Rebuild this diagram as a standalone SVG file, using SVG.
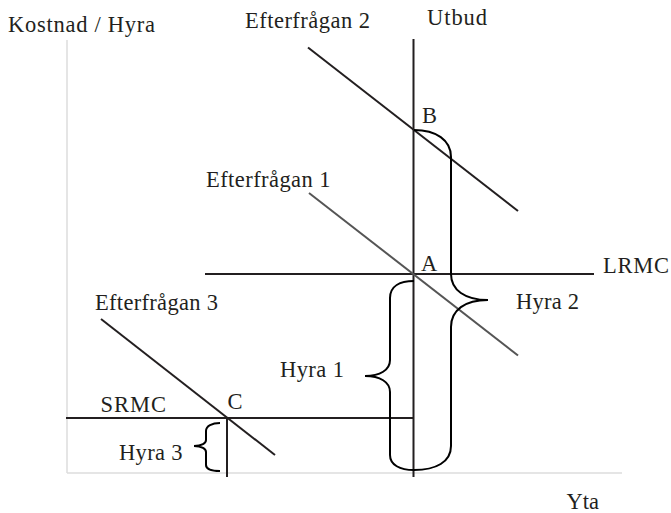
<svg xmlns="http://www.w3.org/2000/svg" width="671" height="513" viewBox="0 0 671 513">
<style>
text{font-family:"Liberation Serif","Times New Roman",serif;font-size:22.5px;fill:#231f20}
.ax{stroke:#dcdcdc;stroke-width:1.5;fill:none}
.ln{stroke:#231f20;stroke-width:2;fill:none}
.gl{stroke:#555;stroke-width:2;fill:none}
.br{stroke:#000;stroke-width:2;fill:none}
</style>
<rect width="671" height="513" fill="#fff"/>
<g id="axes">
<line class="ax" x1="67" y1="40" x2="67" y2="473"/>
<line class="ax" x1="67" y1="473" x2="622" y2="473"/>
<text x="8" y="31.5" textLength="147">Kostnad / Hyra</text>
<text x="566.5" y="508.5" textLength="32.5">Yta</text>
</g>
<g id="connectors">
<line class="ln" x1="413.5" y1="39" x2="413.5" y2="477"/>
<line class="ln" x1="205" y1="274" x2="594" y2="274"/>
<line class="ln" x1="66" y1="418" x2="414" y2="418"/>
<line class="ln" x1="227" y1="418" x2="227" y2="477"/>
<line class="ln" x1="308" y1="47.5" x2="518" y2="211"/>
<line class="gl" x1="309" y1="193" x2="518" y2="355.5"/>
<line class="ln" x1="101" y1="319" x2="275" y2="455"/>
</g>
<g id="utbud"><text x="427" y="25" textLength="60">Utbud</text></g>
<g id="efterfragan2"><text x="245" y="28" textLength="125">Efterfrågan 2</text></g>
<g id="efterfragan1"><text x="206" y="186.5" textLength="124.5">Efterfrågan 1</text></g>
<g id="efterfragan3"><text x="95" y="310" textLength="123">Efterfrågan 3</text></g>
<g id="lrmc"><text x="603" y="273" textLength="66">LRMC</text></g>
<g id="srmc"><text x="100.5" y="412" textLength="65.5">SRMC</text></g>
<g id="pointA"><text x="421" y="270.5">A</text></g>
<g id="pointB"><text x="422" y="122.5">B</text></g>
<g id="pointC"><text x="227.5" y="409">C</text></g>
<g id="hyra2">
<path class="br" d="M414,130 C436,130 451,140 451,157 L451,274 C451,290 465,300 488,300 C465,300 451,310 451,327 L451,446 C451,462 436,470 414,470"/>
<text x="516" y="309" textLength="63">Hyra 2</text>
</g>
<g id="hyra1">
<path class="br" d="M414,281 C400,281 390,286 390,298 L390,360 C390,370 380,376 365,376 C380,376 390,382 390,392 L390,455 C390,465 400,470 414,470"/>
<text x="280" y="376.5" textLength="64">Hyra 1</text>
</g>
<g id="hyra3">
<path class="br" d="M220,423 C212,423 206,426 206,431 L206,440 C206,443 202,446 194,446 C202,446 206,449 206,452 L206,465 C206,469 212,471 220,471"/>
<text x="119" y="459.5" textLength="63.5">Hyra 3</text>
</g>
</svg>
